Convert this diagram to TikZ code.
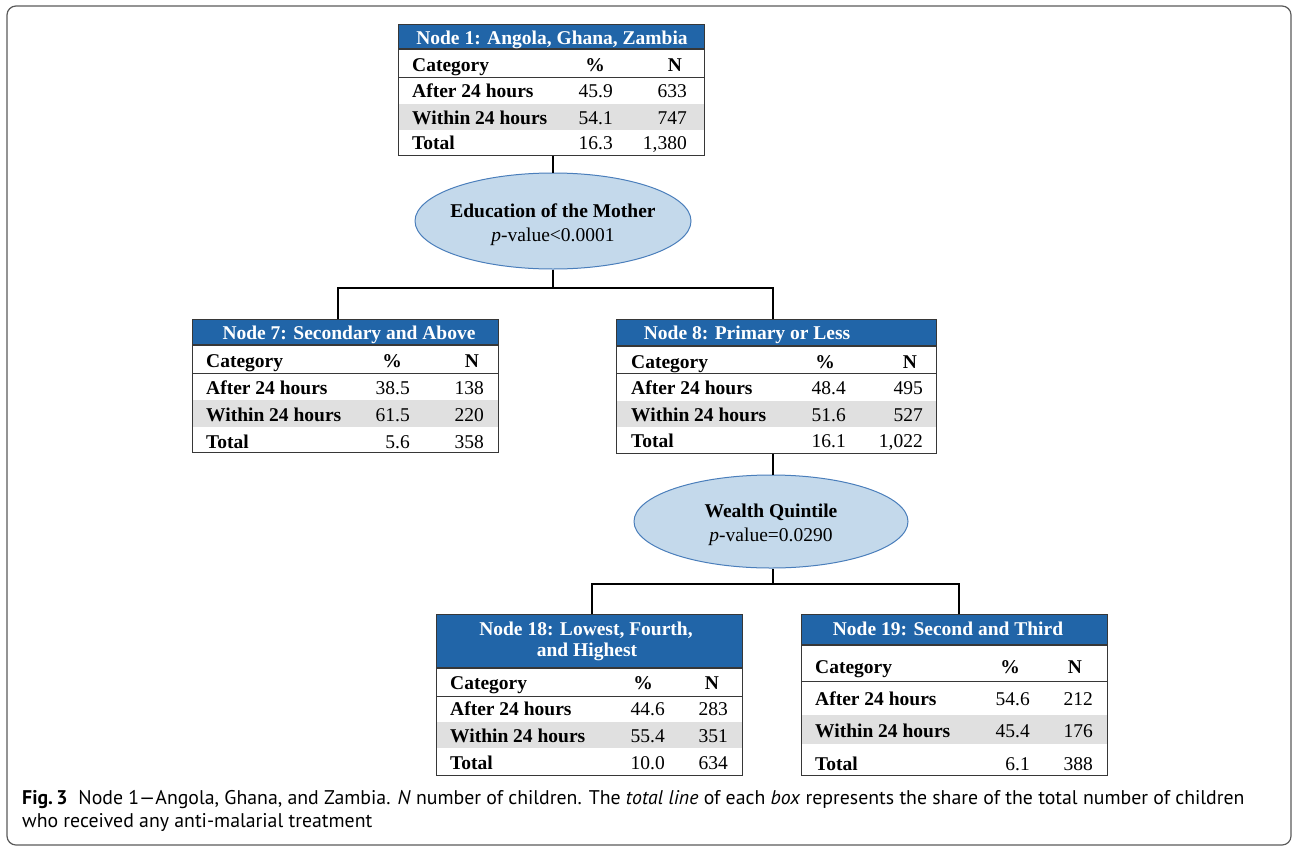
\documentclass[tikz,border=0pt]{standalone}
\usepackage{fontspec}
\setmainfont{Liberation Serif}
\newfontfamily\capfont{PT Sans}
\usetikzlibrary{shapes.geometric}
\definecolor{hdrblue}{RGB}{33,101,168}
\definecolor{rowgray}{RGB}{224,224,224}
\definecolor{ellfill}{RGB}{196,217,235}
\definecolor{elldraw}{RGB}{74,126,187}
\definecolor{tabline}{RGB}{55,55,55}
\definecolor{framegray}{RGB}{90,90,90}
\tikzset{
  tabbox/.style={draw=tabline, line width=1.3pt, inner sep=0pt, anchor=north west},
  lbl/.style={inner sep=0pt, font=\fontsize{19.5}{23}\selectfont\bfseries},
  val/.style={inner sep=0pt, font=\fontsize{19.5}{23}\selectfont},
  hdr/.style={inner sep=0pt, text=white, align=center, font=\fontsize{19.5}{21.5}\selectfont\bfseries},
  ell/.style={ellipse, draw=elldraw, fill=ellfill, line width=1pt, inner sep=0pt},
  etxt/.style={inner sep=0pt, align=center, font=\fontsize{19.5}{24}\selectfont},
  conn/.style={draw=black, line width=1.4pt},
  frame/.style={draw=framegray, line width=1.2pt, rounded corners=9pt},
  captxt/.style={inner sep=0pt, anchor=base west, font=\capfont\fontsize{19.8}{23}\selectfont},
}
% #1 name, #2 L, #3 T, #4 R, #5 header bottom, #6 category line, #7 gray top, #8 gray bottom, #9 B
\newcommand\tabframe[9]{%
  \fill[rowgray] (#2,#7) rectangle (#4,#8);
  \fill[hdrblue] (#2,#3) rectangle (#4,#5);
  \draw[tabline, line width=1.1pt] (#2,#5) -- (#4,#5);
  \draw[tabline, line width=0.9pt] (#2,#6) -- (#4,#6);
  \node[tabbox, minimum width={(#4-#2)*1pt}, minimum height={(#9-#3)*1pt}] (#1) at (#2,#3) {};
}
\newcommand\thead[2]{%
  \node[lbl, anchor=base west] (#1l) at (\xc,#2+6.5) {Category};
  \node[lbl, anchor=base] (#1p) at (\xp,#2+6.5) {\%};
  \node[lbl, anchor=base] (#1n) at (\xn,#2+6.5) {N};
}
\newcommand\trow[5]{%
  \node[lbl, anchor=base west] (#1l) at (\xc,#2+6.5) {#3};
  \node[val, anchor=base east] (#1p) at (\xpr,#2+6.5) {#4};
  \node[val, anchor=base east] (#1n) at (\xnr,#2+6.5) {#5};
}
\begin{document}
\begin{tikzpicture}[x=1pt,y=-1pt]
\useasboundingbox (0,0) rectangle (1292,846);
\draw[frame] (7,6) rectangle (1291,845);

% ---------- Node 1
\tabframe{n1}{398}{24}{704}{49}{77}{104}{130}{155}
\node[hdr, anchor=base] (n1h) at (552,38+6.5) {Node 1: Angola, Ghana, Zambia};
\def\xc{412}\def\xp{595}\def\xpr{613}\def\xn{675}\def\xnr{687}
\thead{n1c}{65}
\trow{n1a}{91}{After 24 hours}{45.9}{633}
\trow{n1w}{118}{Within 24 hours}{54.1}{747}
\trow{n1t}{143}{Total}{16.3}{1,380}

% ---------- Ellipse 1
\node[ell, minimum width=276pt, minimum height=96pt] (e1) at (553,221) {};
\node[etxt] (e1t) at (553,225) {\textbf{Education of the Mother}\\\textit{p}-value<0.0001};

% ---------- Node 7
\tabframe{n7}{192}{319}{498}{345}{373}{400}{427}{452}
\node[hdr, anchor=base] (n7h) at (349,333+6.5) {Node 7: Secondary and Above};
\def\xc{206}\def\xp{392}\def\xpr{410}\def\xn{472}\def\xnr{484}
\thead{n7c}{361}
\trow{n7a}{388}{After 24 hours}{38.5}{138}
\trow{n7w}{415}{Within 24 hours}{61.5}{220}
\trow{n7t}{442}{Total}{5.6}{358}

% ---------- Node 8
\tabframe{n8}{616}{319}{936}{346}{373}{401}{427}{453}
\node[hdr, anchor=base] (n8h) at (747,333+6.5) {Node 8: Primary or Less};
\def\xc{631}\def\xp{825}\def\xpr{846}\def\xn{910}\def\xnr{923}
\thead{n8c}{362}
\trow{n8a}{388}{After 24 hours}{48.4}{495}
\trow{n8w}{415}{Within 24 hours}{51.6}{527}
\trow{n8t}{441}{Total}{16.1}{1,022}

% ---------- Ellipse 2
\node[ell, minimum width=274pt, minimum height=93pt] (e2) at (771,521.5) {};
\node[etxt] (e2t) at (771,525) {\textbf{Wealth Quintile}\\\textit{p}-value=0.0290};

% ---------- Node 18
\tabframe{n18}{436}{614}{742}{668}{696}{722}{748}{775}
\node[hdr, anchor=base] (n18h) at (586,629+6.5) {Node 18: Lowest, Fourth,};
\node[hdr, anchor=base] (n18h2) at (587,650+6.5) {and Highest};
\def\xc{450}\def\xp{643}\def\xpr{665}\def\xn{712}\def\xnr{728}
\thead{n18c}{683}
\trow{n18a}{709}{After 24 hours}{44.6}{283}
\trow{n18w}{736}{Within 24 hours}{55.4}{351}
\trow{n18t}{763}{Total}{10.0}{634}

% ---------- Node 19
\tabframe{n19}{801}{614}{1107}{645}{681}{715}{744}{775}
\node[hdr, anchor=base] (n19h) at (948,629+6.5) {Node 19: Second and Third};
\def\xc{815}\def\xp{1010}\def\xpr{1030}\def\xn{1075}\def\xnr{1093}
\thead{n19c}{667}
\trow{n19a}{699}{After 24 hours}{54.6}{212}
\trow{n19w}{731}{Within 24 hours}{45.4}{176}
\trow{n19t}{764}{Total}{6.1}{388}

% ---------- Connectors
\coordinate (j1) at (553,288);
\coordinate (n7in) at (338,319);
\coordinate (n8in) at (773,319);
\coordinate (j2) at (773,584);
\coordinate (n18in) at (592,614);
\coordinate (n19in) at (959,614);
\draw[conn] (j1 |- n1.south) -- (j1 |- e1.north);
\draw[conn] (j1 |- e1.south) -- (j1);
\draw[conn] (n7in) |- (j1) -| (n8in);
\draw[conn] (n8in |- n8.south) -- (n8in |- e2.north);
\draw[conn] (j2 |- e2.south) -- (j2);
\draw[conn] (n18in) |- (j2) -| (n19in);

% ---------- Caption
\node[captxt] (cap1) at (22,804)
  {\textbf{Fig.\,3}\hspace{0.55em}Node 1—Angola, Ghana, and Zambia. \textit{N} number of children. The \textit{total line} of each \textit{box} represents the share of the total number of children};
\node[captxt] (cap2) at (22,827)
  {who received any anti-malarial treatment};
\end{tikzpicture}
\end{document}
